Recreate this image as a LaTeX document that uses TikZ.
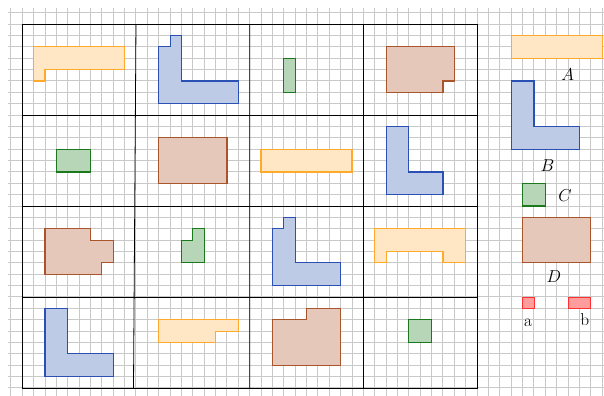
\documentclass[tikz,border=0pt]{standalone}
\definecolor{ofill}{HTML}{FFE6C4}
\definecolor{oline}{HTML}{FFAA2A}
\definecolor{bfill}{HTML}{BDCBE7}
\definecolor{bline}{HTML}{2A50B4}
\definecolor{gfill}{HTML}{B7D6B7}
\definecolor{gline}{HTML}{1C781C}
\definecolor{dfill}{HTML}{E6C8BA}
\definecolor{dline}{HTML}{A8542C}
\definecolor{rfill}{HTML}{FF9C9C}
\definecolor{rline}{HTML}{FF3030}
\begin{document}
\begin{tikzpicture}[x=0.4cm,y=0.4cm,
  gridline/.style={draw=gray!42, line width=1pt},
  frame/.style={draw=black, line width=0.8pt},
  opiece/.style={fill=ofill, draw=oline, line width=1.2pt},
  bpiece/.style={fill=bfill, draw=bline, line width=1.2pt},
  gpiece/.style={fill=gfill, draw=gline, line width=1.2pt},
  dpiece/.style={fill=dfill, draw=dline, line width=1.2pt},
  rpiece/.style={fill=rfill, draw=rline, line width=0.8pt},
  lbl/.style={anchor=base, inner sep=0pt, font=\LARGE}]
\useasboundingbox (-1.96,-0.70) rectangle (51.16,34.12);
\draw[gridline, step=1] (-1.25,-0.7) grid (51.16,33.4);
% frame
\draw[frame] (0,0) rectangle (40,32);
\draw[frame] (0,8) -- (40,8) (0,16) -- (40,16) (0,24) -- (40,24);
\draw[frame] (10,32) -- (9.78,0) (20,0) -- (20,32) (30,0) -- (30,32);
% row 1
\draw[opiece] (1,30) -- (9,30) -- (9,28) -- (2,28) -- (2,27) -- (1,27) -- cycle;
\draw[bpiece] (12,25) -- (19,25) -- (19,27) -- (14,27) -- (14,31) -- (13,31) -- (13,30) -- (12,30) -- cycle;
\draw[gpiece] (23,26) rectangle (24,29);
\draw[dpiece] (32,26) -- (37,26) -- (37,27) -- (38,27) -- (38,30) -- (32,30) -- cycle;
% row 2
\draw[gpiece] (3,19) rectangle (6,21);
\draw[dpiece] (12,18) rectangle (18,22);
\draw[opiece] (21,19) rectangle (29,21);
\draw[bpiece] (32,17) -- (37,17) -- (37,19) -- (34,19) -- (34,23) -- (32,23) -- cycle;
% row 3
\draw[dpiece] (2,10) -- (7,10) -- (7,11) -- (8,11) -- (8,13) -- (6,13) -- (6,14) -- (2,14) -- cycle;
\draw[gpiece] (14,11) -- (16,11) -- (16,14) -- (15,14) -- (15,13) -- (14,13) -- cycle;
\draw[bpiece] (22,9) -- (28,9) -- (28,11) -- (24,11) -- (24,15) -- (23,15) -- (23,14) -- (22,14) -- cycle;
\draw[opiece] (31,11) -- (32,11) -- (32,12) -- (37,12) -- (37,11) -- (39,11) -- (39,14) -- (31,14) -- cycle;
% row 4
\draw[bpiece] (2,1) -- (8,1) -- (8,3) -- (4,3) -- (4,7) -- (2,7) -- cycle;
\draw[opiece] (12,4) -- (17,4) -- (17,5) -- (19,5) -- (19,6) -- (12,6) -- cycle;
\draw[dpiece] (22,2) -- (28,2) -- (28,7) -- (25,7) -- (25,6) -- (22,6) -- cycle;
\draw[gpiece] (34,4) rectangle (36,6);
% legend
\draw[opiece] (43,29) rectangle (51,31);
\draw[bpiece] (43,21) -- (49,21) -- (49,23) -- (45,23) -- (45,27) -- (43,27) -- cycle;
\draw[gpiece] (44,16) rectangle (46,18);
\draw[dpiece] (44,11) rectangle (50,15);
\draw[rpiece] (44,7) rectangle (45,8);
\draw[rpiece] (48,7) rectangle (50,8);
\node[lbl] (labA) at (47.96,27.0) {$A$};
\node[lbl] (labB) at (46.18,19.0) {$B$};
\node[lbl] (labC) at (47.73,16.36) {$C$};
\node[lbl] (labD) at (46.76,9.3) {$D$};
\node[lbl] (laba) at (44.49,5.39) {a};
\node[lbl] (labb) at (49.46,5.45) {b};
\end{tikzpicture}
\end{document}
